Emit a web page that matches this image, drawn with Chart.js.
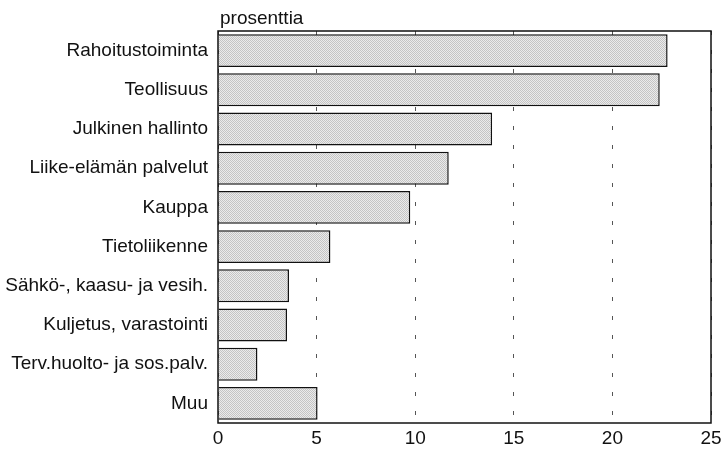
<!DOCTYPE html>
<html>
<head>
<meta charset="utf-8">
<script src="https://cdn.jsdelivr.net/npm/chart.js@4"></script>
<style>
  html, body { margin: 0; padding: 0; background: #fff; }
  #wrap { width: 727px; height: 449px; }
</style>
</head>
<body>
<div id="wrap"><canvas id="chart"></canvas></div>
<script>
const labels = [
    'Rahoitustoiminta',
    'Teollisuus',
    'Julkinen hallinto',
    'Liike-elämän palvelut',
    'Kauppa',
    'Tietoliikenne',
    'Sähkö-, kaasu- ja vesih.',
    'Kuljetus, varastointi',
    'Terv.huolto- ja sos.palv.',
    'Muu',
];
const values = [22.8, 22.4, 13.9, 11.7, 9.75, 5.7, 3.6, 3.5, 2.0, 5.05];
const unitLabel = 'prosenttia';
const xTicks = [0, 5, 10, 15, 20, 25];

// fine grey raster like the printed original
function dotPattern() {
    const c = document.createElement('canvas');
    c.width = 2;
    c.height = 2;
    const g = c.getContext('2d');
    g.fillStyle = '#ebebeb';
    g.fillRect(0, 0, 2, 2);
    g.fillStyle = '#c4c4c4';
    g.fillRect(0, 0, 1, 1);
    g.fillRect(1, 1, 1, 1);
    return g.createPattern(c, 'repeat');
}

const frame = {
    id: 'frame',
    afterDraw(chart) {
        const { ctx, chartArea: a } = chart;
        ctx.save();
        ctx.strokeStyle = '#111';
        ctx.lineWidth = 1.5;
        ctx.strokeRect(a.left, a.top, a.right - a.left, a.bottom - a.top);
        ctx.fillStyle = '#111';
        ctx.font = '19px "Liberation Sans", Arial, sans-serif';
        ctx.textAlign = 'left';
        ctx.textBaseline = 'alphabetic';
        ctx.fillText(unitLabel, a.left + 2, 24);
        ctx.restore();
    }
};

const font = { family: '"Liberation Sans", Arial, sans-serif', size: 19 };

new Chart(document.getElementById('chart'), {
    type: 'bar',
    data: {
        labels: labels,
        datasets: [{
            data: values,
            backgroundColor: dotPattern(),
            borderColor: '#111',
            borderWidth: 1.5,
            barPercentage: 0.84,
            categoryPercentage: 1,
        }]
    },
    options: {
        indexAxis: 'y',
        responsive: true,
        maintainAspectRatio: false,
        animation: { duration: 0 },
        layout: { padding: { top: 31, right: 16, left: 0, bottom: 0 } },
        plugins: {
            legend: { display: false },
            tooltip: { enabled: false },
        },
        scales: {
            x: {
                min: 0,
                max: 25,
                afterBuildTicks: axis => { axis.ticks = xTicks.map(v => ({ value: v })); },
                afterFit: scale => { scale.height = 26; },
                ticks: { color: '#111', font: { ...font, size: 19 }, padding: 4 },
                grid: {
                    drawTicks: false,
                    color: '#555',
                    lineWidth: 1,
                },
                border: { display: false, dash: [4, 15] },
            },
            y: {
                afterFit: scale => { scale.width = 218; },
                ticks: { color: '#111', font: font, padding: 10 },
                grid: { display: false, drawTicks: false },
                border: { display: false },
            }
        }
    },
    plugins: [frame],
});
</script>
</body>
</html>
